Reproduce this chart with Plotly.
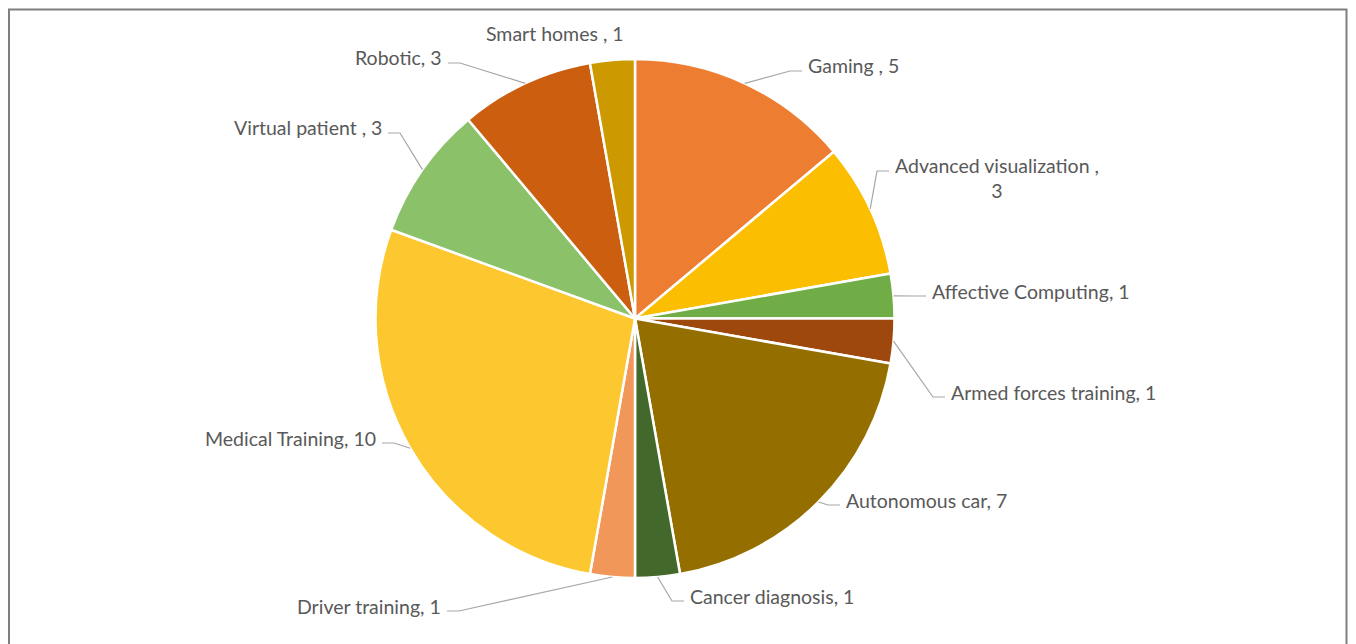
import math
import plotly.graph_objects as go

# ---- data ----
categories = ["Gaming ", "Advanced visualization ", "Affective Computing", "Armed forces training",
              "Autonomous car", "Cancer diagnosis", "Driver training", "Medical Training",
              "Virtual patient ", "Robotic", "Smart homes "]
values = [5, 3, 1, 1, 7, 1, 1, 10, 3, 3, 1]
colors = ["#ED7D31", "#FBBE00", "#70AD47", "#9E480E", "#946F00", "#43682B",
          "#F1975A", "#FDC82F", "#8BC168", "#CC5E10", "#CC9A00"]

# ---- layout (pixels, in screen coordinates; page body adds an 8px offset) ----
W, H = 1348, 636
OX, OY = 8, 8
CX, CY, R = 635, 318.5, 259.5
# label placement: (text x, text y, side, leader?)  side 'r' = label right of pie
label_pos = [
    (806, 66, "r", True),
    (893, 178, "r", True),
    (930, 291, "r", True),
    (949, 392, "r", True),
    (844, 500, "r", True),
    (688, 596, "r", True),
    (443, 606, "l", True),
    (378, 438, "l", True),
    (384, 128, "l", True),
    (444, 58, "l", True),
    (555, 34, "c", False),
]
wrap = {1: True}


def px(x):
    return (x - OX) / W


def py(y):
    return 1 - (y - OY) / H


fig = go.Figure(go.Pie(
    labels=categories, values=values, sort=False, direction="clockwise", rotation=0,
    marker=dict(colors=colors, line=dict(color="white", width=2.5)),
    textinfo="none", hoverinfo="label+value", showlegend=False,
    domain=dict(x=[px(CX - R), px(CX + R)], y=[py(CY + R), py(CY - R)]),
))

total = sum(values)
cum = 0
shapes = []
annotations = []
for i, (c, v) in enumerate(zip(categories, values)):
    mid = (cum + v / 2) / total * 2 * math.pi
    cum += v
    ex, ey = CX + R * math.sin(mid), CY - R * math.cos(mid)
    tx, ty, side, leader = label_pos[i]
    text = f"{c}, {v}"
    if wrap.get(i):
        text = f"{c},<br>{v}"
    ly = ty + 5 if not wrap.get(i) else ty - 7
    if leader:
        s = 1 if side == "r" else -1
        p2 = (tx - s * 4, ly)
        p1 = (tx - s * 16, ly)
        path = f"M {px(ex)},{py(ey)} L {px(p1[0])},{py(p1[1])} L {px(p2[0])},{py(p2[1])}"
        shapes.append(dict(type="path", xref="paper", yref="paper", path=path,
                           line=dict(color="#A6A6A6", width=1.2)))
    xanchor = {"r": "left", "l": "right", "c": "center"}[side]
    annotations.append(dict(x=px(tx), y=py(ty), xref="paper", yref="paper", text=text,
                            showarrow=False, xanchor=xanchor, yanchor="middle", align="center",
                            font=dict(family="Lato, Open Sans, sans-serif", size=19.5, color="#595959")))

# outer border
shapes.append(dict(type="path", xref="paper", yref="paper",
                   path=f"M {px(9)},{py(670)} L {px(9)},{py(9.5)} L {px(1346.5)},{py(9.5)} L {px(1346.5)},{py(670)}",
                   line=dict(color="#7F7F7F", width=2)))

fig.update_layout(width=W, height=H, margin=dict(l=0, r=0, t=0, b=0),
                  paper_bgcolor="white", plot_bgcolor="white",
                  shapes=shapes, annotations=annotations)
fig.write_html("out.html")
